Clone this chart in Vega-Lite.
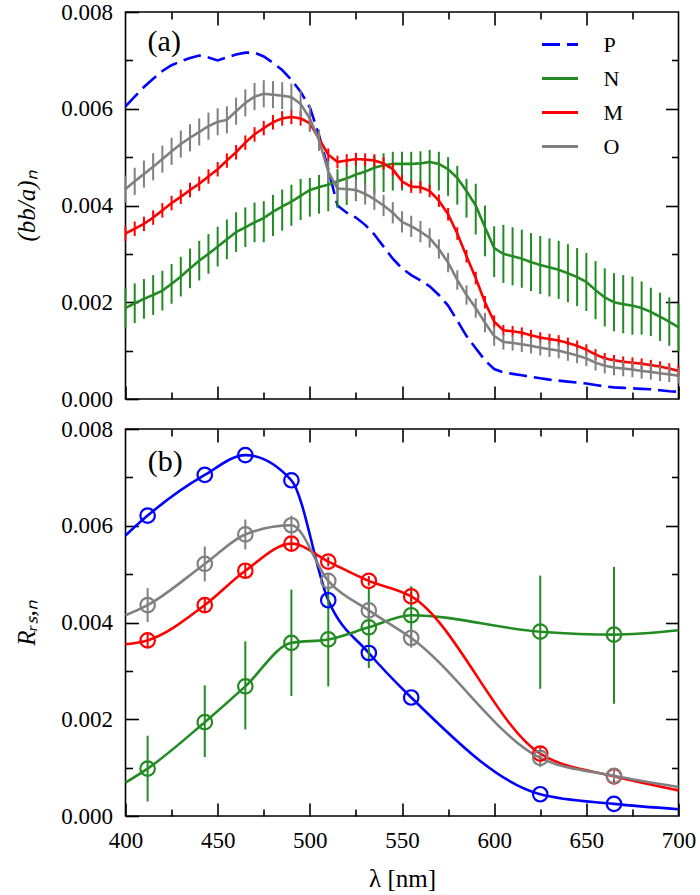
{
  "$schema": "https://vega.github.io/schema/vega-lite/v6.json",
  "padding": {"left": 13.5, "top": 0, "right": 10, "bottom": 2},
  "background": "white",
  "bounds": "flush",
  "config": {
    "view": {"stroke": "black", "strokeWidth": 1.6},
    "font": "Liberation Serif",
    "axis": {"domain": false, "grid": false, "tickColor": "black", "tickWidth": 1.6, "labelFont": "Liberation Serif", "labelFontSize": 23, "labelColor": "black", "labelFlush": false, "titleFont": "Liberation Serif", "titleFontSize": 25, "titleFontWeight": "normal", "titleColor": "black"},
    "legend": {"labelFont": "Liberation Serif", "labelFontSize": 22, "labelColor": "black"}
  },
  "resolve": {"scale": {"color": "independent", "strokeDash": "independent"}, "legend": {"color": "independent", "strokeDash": "independent"}},
  "spacing": 30,
  "datasets": {
    "top": [
      {"wl":400,"s":"P","v":0.00605},{"wl":405,"s":"P","v":0.00625},{"wl":410,"s":"P","v":0.00645},{"wl":415,"s":"P","v":0.00662},{"wl":420,"s":"P","v":0.00678},{"wl":425,"s":"P","v":0.0069},{"wl":430,"s":"P","v":0.00698},{"wl":435,"s":"P","v":0.00705},{"wl":440,"s":"P","v":0.0071},{"wl":445,"s":"P","v":0.00706},{"wl":450,"s":"P","v":0.007},{"wl":455,"s":"P","v":0.00706},{"wl":460,"s":"P","v":0.00712},{"wl":465,"s":"P","v":0.00716},{"wl":470,"s":"P","v":0.00716},{"wl":475,"s":"P","v":0.00708},{"wl":480,"s":"P","v":0.00695},{"wl":485,"s":"P","v":0.0068},{"wl":490,"s":"P","v":0.0066},{"wl":495,"s":"P","v":0.00635},{"wl":500,"s":"P","v":0.00603},{"wl":505,"s":"P","v":0.00545},{"wl":510,"s":"P","v":0.00475},{"wl":515,"s":"P","v":0.004},{"wl":520,"s":"P","v":0.00385},{"wl":525,"s":"P","v":0.00375},{"wl":530,"s":"P","v":0.0036},{"wl":535,"s":"P","v":0.0034},{"wl":540,"s":"P","v":0.00315},{"wl":545,"s":"P","v":0.0029},{"wl":550,"s":"P","v":0.0027},{"wl":555,"s":"P","v":0.00256},{"wl":560,"s":"P","v":0.00245},{"wl":565,"s":"P","v":0.00233},{"wl":570,"s":"P","v":0.00215},{"wl":575,"s":"P","v":0.00193},{"wl":580,"s":"P","v":0.00162},{"wl":585,"s":"P","v":0.0013},{"wl":590,"s":"P","v":0.00105},{"wl":595,"s":"P","v":0.0008},{"wl":600,"s":"P","v":0.00062},{"wl":605,"s":"P","v":0.00055},{"wl":610,"s":"P","v":0.00052},{"wl":615,"s":"P","v":0.00049},{"wl":620,"s":"P","v":0.00046},{"wl":625,"s":"P","v":0.00043},{"wl":630,"s":"P","v":0.0004},{"wl":635,"s":"P","v":0.00038},{"wl":640,"s":"P","v":0.00036},{"wl":645,"s":"P","v":0.00034},{"wl":650,"s":"P","v":0.00032},{"wl":655,"s":"P","v":0.00029},{"wl":660,"s":"P","v":0.00026},{"wl":665,"s":"P","v":0.00024},{"wl":670,"s":"P","v":0.00023},{"wl":675,"s":"P","v":0.00022},{"wl":680,"s":"P","v":0.00021},{"wl":685,"s":"P","v":0.0002},{"wl":690,"s":"P","v":0.00018},{"wl":695,"s":"P","v":0.00016},{"wl":700,"s":"P","v":0.00015},
      {"wl":400,"s":"N","v":0.00188,"lo":0.00147,"hi":0.00229},{"wl":405,"s":"N","v":0.00198,"lo":0.00157,"hi":0.00239},{"wl":410,"s":"N","v":0.00207,"lo":0.00166,"hi":0.00248},{"wl":415,"s":"N","v":0.00215,"lo":0.00174,"hi":0.00256},{"wl":420,"s":"N","v":0.00224,"lo":0.00183,"hi":0.00265},{"wl":425,"s":"N","v":0.00238,"lo":0.00197,"hi":0.00279},{"wl":430,"s":"N","v":0.00253,"lo":0.00212,"hi":0.00294},{"wl":435,"s":"N","v":0.0027,"lo":0.00229,"hi":0.00311},{"wl":440,"s":"N","v":0.00286,"lo":0.00245,"hi":0.00327},{"wl":445,"s":"N","v":0.003,"lo":0.00259,"hi":0.00341},{"wl":450,"s":"N","v":0.00315,"lo":0.00274,"hi":0.00356},{"wl":455,"s":"N","v":0.0033,"lo":0.00289,"hi":0.00371},{"wl":460,"s":"N","v":0.00345,"lo":0.00304,"hi":0.00386},{"wl":465,"s":"N","v":0.00355,"lo":0.00314,"hi":0.00396},{"wl":470,"s":"N","v":0.00365,"lo":0.00324,"hi":0.00406},{"wl":475,"s":"N","v":0.00374,"lo":0.00324,"hi":0.00409},{"wl":480,"s":"N","v":0.00387,"lo":0.00337,"hi":0.00422},{"wl":485,"s":"N","v":0.00398,"lo":0.00348,"hi":0.00433},{"wl":490,"s":"N","v":0.00408,"lo":0.00358,"hi":0.00443},{"wl":495,"s":"N","v":0.0042,"lo":0.0037,"hi":0.00455},{"wl":500,"s":"N","v":0.00432,"lo":0.00377,"hi":0.00457},{"wl":505,"s":"N","v":0.00438,"lo":0.00383,"hi":0.00463},{"wl":510,"s":"N","v":0.00443,"lo":0.00388,"hi":0.00468},{"wl":515,"s":"N","v":0.0045,"lo":0.00395,"hi":0.00475},{"wl":520,"s":"N","v":0.00456,"lo":0.00401,"hi":0.00481},{"wl":525,"s":"N","v":0.00464,"lo":0.00409,"hi":0.00489},{"wl":530,"s":"N","v":0.0047,"lo":0.00415,"hi":0.00495},{"wl":535,"s":"N","v":0.00478,"lo":0.00423,"hi":0.00503},{"wl":540,"s":"N","v":0.00483,"lo":0.00428,"hi":0.00508},{"wl":545,"s":"N","v":0.00486,"lo":0.00431,"hi":0.00511},{"wl":550,"s":"N","v":0.00486,"lo":0.00431,"hi":0.00511},{"wl":555,"s":"N","v":0.00486,"lo":0.00431,"hi":0.00511},{"wl":560,"s":"N","v":0.00487,"lo":0.00432,"hi":0.00512},{"wl":565,"s":"N","v":0.0049,"lo":0.00435,"hi":0.00515},{"wl":570,"s":"N","v":0.00486,"lo":0.00431,"hi":0.00511},{"wl":575,"s":"N","v":0.00475,"lo":0.0042,"hi":0.005},{"wl":580,"s":"N","v":0.00457,"lo":0.00402,"hi":0.00482},{"wl":585,"s":"N","v":0.0043,"lo":0.00375,"hi":0.00455},{"wl":590,"s":"N","v":0.004,"lo":0.0034,"hi":0.00445},{"wl":595,"s":"N","v":0.00355,"lo":0.00295,"hi":0.004},{"wl":600,"s":"N","v":0.00312,"lo":0.00252,"hi":0.00357},{"wl":605,"s":"N","v":0.003,"lo":0.0024,"hi":0.0036},{"wl":610,"s":"N","v":0.00295,"lo":0.00235,"hi":0.00355},{"wl":615,"s":"N","v":0.0029,"lo":0.0023,"hi":0.0035},{"wl":620,"s":"N","v":0.00283,"lo":0.00223,"hi":0.00343},{"wl":625,"s":"N","v":0.00277,"lo":0.00217,"hi":0.00337},{"wl":630,"s":"N","v":0.00272,"lo":0.00212,"hi":0.00332},{"wl":635,"s":"N","v":0.00267,"lo":0.00207,"hi":0.00327},{"wl":640,"s":"N","v":0.0026,"lo":0.002,"hi":0.0032},{"wl":645,"s":"N","v":0.00252,"lo":0.00192,"hi":0.00312},{"wl":650,"s":"N","v":0.00242,"lo":0.00182,"hi":0.00302},{"wl":655,"s":"N","v":0.00225,"lo":0.00165,"hi":0.00285},{"wl":660,"s":"N","v":0.0021,"lo":0.0015,"hi":0.0027},{"wl":665,"s":"N","v":0.002,"lo":0.0014,"hi":0.0026},{"wl":670,"s":"N","v":0.00196,"lo":0.00136,"hi":0.00256},{"wl":675,"s":"N","v":0.00193,"lo":0.00133,"hi":0.00253},{"wl":680,"s":"N","v":0.00188,"lo":0.00133,"hi":0.00243},{"wl":685,"s":"N","v":0.0018,"lo":0.0013,"hi":0.0023},{"wl":690,"s":"N","v":0.0017,"lo":0.0012,"hi":0.0022},{"wl":695,"s":"N","v":0.0016,"lo":0.0011,"hi":0.0021},{"wl":700,"s":"N","v":0.00148,"lo":0.00098,"hi":0.00198},
      {"wl":400,"s":"M","v":0.00342,"lo":0.00327,"hi":0.00357},{"wl":405,"s":"M","v":0.00352,"lo":0.00337,"hi":0.00367},{"wl":410,"s":"M","v":0.00362,"lo":0.00347,"hi":0.00377},{"wl":415,"s":"M","v":0.00375,"lo":0.0036,"hi":0.0039},{"wl":420,"s":"M","v":0.0039,"lo":0.00375,"hi":0.00405},{"wl":425,"s":"M","v":0.00405,"lo":0.0039,"hi":0.0042},{"wl":430,"s":"M","v":0.00418,"lo":0.00403,"hi":0.00433},{"wl":435,"s":"M","v":0.00432,"lo":0.00417,"hi":0.00447},{"wl":440,"s":"M","v":0.00445,"lo":0.0043,"hi":0.0046},{"wl":445,"s":"M","v":0.0046,"lo":0.00445,"hi":0.00475},{"wl":450,"s":"M","v":0.00475,"lo":0.0046,"hi":0.0049},{"wl":455,"s":"M","v":0.00493,"lo":0.00478,"hi":0.00508},{"wl":460,"s":"M","v":0.0051,"lo":0.00495,"hi":0.00525},{"wl":465,"s":"M","v":0.0053,"lo":0.00515,"hi":0.00545},{"wl":470,"s":"M","v":0.00547,"lo":0.00532,"hi":0.00562},{"wl":475,"s":"M","v":0.0056,"lo":0.00545,"hi":0.00575},{"wl":480,"s":"M","v":0.00572,"lo":0.00557,"hi":0.00587},{"wl":485,"s":"M","v":0.0058,"lo":0.00565,"hi":0.00595},{"wl":490,"s":"M","v":0.00583,"lo":0.00568,"hi":0.00598},{"wl":495,"s":"M","v":0.0058,"lo":0.00565,"hi":0.00595},{"wl":500,"s":"M","v":0.0057,"lo":0.00555,"hi":0.00585},{"wl":505,"s":"M","v":0.00538,"lo":0.00525,"hi":0.00551},{"wl":510,"s":"M","v":0.00505,"lo":0.00492,"hi":0.00518},{"wl":515,"s":"M","v":0.0049,"lo":0.00477,"hi":0.00503},{"wl":520,"s":"M","v":0.00493,"lo":0.0048,"hi":0.00506},{"wl":525,"s":"M","v":0.00496,"lo":0.00483,"hi":0.00509},{"wl":530,"s":"M","v":0.00495,"lo":0.00482,"hi":0.00508},{"wl":535,"s":"M","v":0.00493,"lo":0.0048,"hi":0.00506},{"wl":540,"s":"M","v":0.00487,"lo":0.00474,"hi":0.005},{"wl":545,"s":"M","v":0.00475,"lo":0.00462,"hi":0.00488},{"wl":550,"s":"M","v":0.0045,"lo":0.00437,"hi":0.00463},{"wl":555,"s":"M","v":0.00439,"lo":0.00426,"hi":0.00452},{"wl":560,"s":"M","v":0.00438,"lo":0.00425,"hi":0.00451},{"wl":565,"s":"M","v":0.0043,"lo":0.00417,"hi":0.00443},{"wl":570,"s":"M","v":0.0041,"lo":0.00397,"hi":0.00423},{"wl":575,"s":"M","v":0.00382,"lo":0.00369,"hi":0.00395},{"wl":580,"s":"M","v":0.00342,"lo":0.00329,"hi":0.00355},{"wl":585,"s":"M","v":0.00295,"lo":0.00282,"hi":0.00308},{"wl":590,"s":"M","v":0.0025,"lo":0.00237,"hi":0.00263},{"wl":595,"s":"M","v":0.002,"lo":0.00187,"hi":0.00213},{"wl":600,"s":"M","v":0.0016,"lo":0.00147,"hi":0.00173},{"wl":605,"s":"M","v":0.00142,"lo":0.00131,"hi":0.00153},{"wl":610,"s":"M","v":0.0014,"lo":0.00129,"hi":0.00151},{"wl":615,"s":"M","v":0.00137,"lo":0.00126,"hi":0.00148},{"wl":620,"s":"M","v":0.00132,"lo":0.00121,"hi":0.00143},{"wl":625,"s":"M","v":0.00127,"lo":0.00116,"hi":0.00138},{"wl":630,"s":"M","v":0.00124,"lo":0.00113,"hi":0.00135},{"wl":635,"s":"M","v":0.00121,"lo":0.0011,"hi":0.00132},{"wl":640,"s":"M","v":0.00116,"lo":0.00105,"hi":0.00127},{"wl":645,"s":"M","v":0.0011,"lo":0.00099,"hi":0.00121},{"wl":650,"s":"M","v":0.00102,"lo":0.00091,"hi":0.00113},{"wl":655,"s":"M","v":0.00092,"lo":0.00081,"hi":0.00103},{"wl":660,"s":"M","v":0.00084,"lo":0.00073,"hi":0.00095},{"wl":665,"s":"M","v":0.0008,"lo":0.00069,"hi":0.00091},{"wl":670,"s":"M","v":0.00077,"lo":0.00066,"hi":0.00088},{"wl":675,"s":"M","v":0.00075,"lo":0.00064,"hi":0.00086},{"wl":680,"s":"M","v":0.00073,"lo":0.00062,"hi":0.00084},{"wl":685,"s":"M","v":0.0007,"lo":0.00059,"hi":0.00081},{"wl":690,"s":"M","v":0.00067,"lo":0.00056,"hi":0.00078},{"wl":695,"s":"M","v":0.00063,"lo":0.00052,"hi":0.00074},{"wl":700,"s":"M","v":0.00058,"lo":0.00047,"hi":0.00069},
      {"wl":400,"s":"O","v":0.00434,"lo":0.00406,"hi":0.00462},{"wl":405,"s":"O","v":0.0045,"lo":0.00422,"hi":0.00478},{"wl":410,"s":"O","v":0.00465,"lo":0.00437,"hi":0.00493},{"wl":415,"s":"O","v":0.0048,"lo":0.00452,"hi":0.00508},{"wl":420,"s":"O","v":0.00496,"lo":0.00468,"hi":0.00524},{"wl":425,"s":"O","v":0.00512,"lo":0.00484,"hi":0.0054},{"wl":430,"s":"O","v":0.00527,"lo":0.00499,"hi":0.00555},{"wl":435,"s":"O","v":0.0054,"lo":0.00512,"hi":0.00568},{"wl":440,"s":"O","v":0.00552,"lo":0.00524,"hi":0.0058},{"wl":445,"s":"O","v":0.00564,"lo":0.00536,"hi":0.00592},{"wl":450,"s":"O","v":0.00573,"lo":0.00545,"hi":0.00601},{"wl":455,"s":"O","v":0.00577,"lo":0.00549,"hi":0.00605},{"wl":460,"s":"O","v":0.00595,"lo":0.00567,"hi":0.00623},{"wl":465,"s":"O","v":0.00612,"lo":0.00584,"hi":0.0064},{"wl":470,"s":"O","v":0.00625,"lo":0.00597,"hi":0.00653},{"wl":475,"s":"O","v":0.00631,"lo":0.00603,"hi":0.00659},{"wl":480,"s":"O","v":0.00629,"lo":0.00601,"hi":0.00657},{"wl":485,"s":"O","v":0.00627,"lo":0.00599,"hi":0.00655},{"wl":490,"s":"O","v":0.00624,"lo":0.00596,"hi":0.00652},{"wl":495,"s":"O","v":0.0061,"lo":0.00582,"hi":0.00638},{"wl":500,"s":"O","v":0.0058,"lo":0.00552,"hi":0.00608},{"wl":505,"s":"O","v":0.00535,"lo":0.00513,"hi":0.00557},{"wl":510,"s":"O","v":0.0047,"lo":0.00448,"hi":0.00492},{"wl":515,"s":"O","v":0.00435,"lo":0.00413,"hi":0.00457},{"wl":520,"s":"O","v":0.00434,"lo":0.00412,"hi":0.00456},{"wl":525,"s":"O","v":0.00432,"lo":0.0041,"hi":0.00454},{"wl":530,"s":"O","v":0.00424,"lo":0.00402,"hi":0.00446},{"wl":535,"s":"O","v":0.00413,"lo":0.00391,"hi":0.00435},{"wl":540,"s":"O","v":0.004,"lo":0.00378,"hi":0.00422},{"wl":545,"s":"O","v":0.00385,"lo":0.00363,"hi":0.00407},{"wl":550,"s":"O","v":0.00366,"lo":0.00344,"hi":0.00388},{"wl":555,"s":"O","v":0.00357,"lo":0.00335,"hi":0.00379},{"wl":560,"s":"O","v":0.00346,"lo":0.00324,"hi":0.00368},{"wl":565,"s":"O","v":0.00333,"lo":0.00313,"hi":0.00353},{"wl":570,"s":"O","v":0.0031,"lo":0.0029,"hi":0.0033},{"wl":575,"s":"O","v":0.00282,"lo":0.00262,"hi":0.00302},{"wl":580,"s":"O","v":0.00246,"lo":0.00226,"hi":0.00266},{"wl":585,"s":"O","v":0.00215,"lo":0.00195,"hi":0.00235},{"wl":590,"s":"O","v":0.00188,"lo":0.00168,"hi":0.00208},{"wl":595,"s":"O","v":0.00158,"lo":0.00138,"hi":0.00178},{"wl":600,"s":"O","v":0.0013,"lo":0.0011,"hi":0.0015},{"wl":605,"s":"O","v":0.00118,"lo":0.00102,"hi":0.00134},{"wl":610,"s":"O","v":0.00116,"lo":0.001,"hi":0.00132},{"wl":615,"s":"O","v":0.00113,"lo":0.00097,"hi":0.00129},{"wl":620,"s":"O","v":0.0011,"lo":0.00094,"hi":0.00126},{"wl":625,"s":"O","v":0.00106,"lo":0.0009,"hi":0.00122},{"wl":630,"s":"O","v":0.00103,"lo":0.00087,"hi":0.00119},{"wl":635,"s":"O","v":0.001,"lo":0.00084,"hi":0.00116},{"wl":640,"s":"O","v":0.00095,"lo":0.00079,"hi":0.00111},{"wl":645,"s":"O","v":0.0009,"lo":0.00074,"hi":0.00106},{"wl":650,"s":"O","v":0.00084,"lo":0.00068,"hi":0.001},{"wl":655,"s":"O","v":0.00075,"lo":0.00059,"hi":0.00091},{"wl":660,"s":"O","v":0.00069,"lo":0.00053,"hi":0.00085},{"wl":665,"s":"O","v":0.00065,"lo":0.00049,"hi":0.00081},{"wl":670,"s":"O","v":0.00063,"lo":0.00047,"hi":0.00079},{"wl":675,"s":"O","v":0.00061,"lo":0.00045,"hi":0.00077},{"wl":680,"s":"O","v":0.00058,"lo":0.00042,"hi":0.00074},{"wl":685,"s":"O","v":0.00056,"lo":0.0004,"hi":0.00072},{"wl":690,"s":"O","v":0.00053,"lo":0.00037,"hi":0.00069},{"wl":695,"s":"O","v":0.00051,"lo":0.00035,"hi":0.00067},{"wl":700,"s":"O","v":0.00048,"lo":0.00032,"hi":0.00064}
    ],
    "bot": [
      {"wl":400,"s":"P","v":0.0058},{"wl":412,"s":"P","v":0.00621},{"wl":443,"s":"P","v":0.00705},{"wl":465,"s":"P","v":0.00746},{"wl":490,"s":"P","v":0.00694},{"wl":510,"s":"P","v":0.00446},{"wl":532,"s":"P","v":0.00337},{"wl":555,"s":"P","v":0.00245},{"wl":625,"s":"P","v":0.00045},{"wl":665,"s":"P","v":0.00025},{"wl":700,"s":"P","v":0.00014},
      {"wl":400,"s":"N","v":0.00069},{"wl":412,"s":"N","v":0.00098,"lo":0.0003,"hi":0.00166},{"wl":443,"s":"N","v":0.00194,"lo":0.00122,"hi":0.0027},{"wl":465,"s":"N","v":0.00268,"lo":0.00179,"hi":0.00361},{"wl":490,"s":"N","v":0.00358,"lo":0.00248,"hi":0.00468},{"wl":510,"s":"N","v":0.00365,"lo":0.00268,"hi":0.0047},{"wl":532,"s":"N","v":0.0039,"lo":0.00306,"hi":0.0047},{"wl":555,"s":"N","v":0.00415,"lo":0.0035,"hi":0.00475},{"wl":625,"s":"N","v":0.00381,"lo":0.00263,"hi":0.00497},{"wl":665,"s":"N","v":0.00375,"lo":0.00232,"hi":0.00515},{"wl":700,"s":"N","v":0.00384},
      {"wl":400,"s":"M","v":0.00355},{"wl":412,"s":"M","v":0.00363,"lo":0.00348,"hi":0.00378},{"wl":443,"s":"M","v":0.00436,"lo":0.00421,"hi":0.00451},{"wl":465,"s":"M","v":0.00507,"lo":0.00492,"hi":0.00522},{"wl":490,"s":"M","v":0.00563,"lo":0.00548,"hi":0.00578},{"wl":510,"s":"M","v":0.00526,"lo":0.00516,"hi":0.00536},{"wl":532,"s":"M","v":0.00486,"lo":0.00476,"hi":0.00496},{"wl":555,"s":"M","v":0.00454,"lo":0.00444,"hi":0.00464},{"wl":625,"s":"M","v":0.00129,"lo":0.00114,"hi":0.00144},{"wl":665,"s":"M","v":0.00082,"lo":0.0007,"hi":0.00094},{"wl":700,"s":"M","v":0.00053},
      {"wl":400,"s":"O","v":0.00415},{"wl":412,"s":"O","v":0.00436,"lo":0.00401,"hi":0.00471},{"wl":443,"s":"O","v":0.00521,"lo":0.00485,"hi":0.00557},{"wl":465,"s":"O","v":0.00582,"lo":0.00551,"hi":0.00613},{"wl":490,"s":"O","v":0.00601,"lo":0.00581,"hi":0.00621},{"wl":510,"s":"O","v":0.00486,"lo":0.00471,"hi":0.00501},{"wl":532,"s":"O","v":0.00425,"lo":0.00408,"hi":0.00442},{"wl":555,"s":"O","v":0.00368,"lo":0.00348,"hi":0.00388},{"wl":625,"s":"O","v":0.0012,"lo":0.00101,"hi":0.00139},{"wl":665,"s":"O","v":0.00083,"lo":0.00073,"hi":0.00093},{"wl":700,"s":"O","v":0.0006}
    ]
  },
  "vconcat": [
    {
      "width": 553,
      "height": 387,
      "resolve": {"axis": {"x": "independent", "y": "independent"}},
      "layer": [
        {
          "data": {"name": "top"},
          "mark": {"type": "line", "strokeWidth": 2.6},
          "encoding": {
            "x": {"field": "wl", "type": "quantitative", "scale": {"domain": [400, 700], "nice": false}, "axis": {"orient": "bottom", "values": [400, 450, 500, 550, 600, 650, 700], "tickSize": -13, "labels": false, "title": null}},
            "y": {"field": "v", "type": "quantitative", "scale": {"domain": [0, 0.008], "nice": false}, "axis": {"orient": "left", "values": [0, 0.002, 0.004, 0.006, 0.008], "format": ".3f", "tickSize": -13, "labelPadding": 26, "labelFont": "Liberation Serif", "title": "(bb/a)ₙ", "titlePadding": 21, "titleFontStyle": "italic"}},
            "color": {"field": "s", "type": "nominal", "sort": null, "scale": {"domain": ["P", "N", "M", "O"], "range": ["#0000ff", "#228b22", "#ff0000", "#808080"]}, "legend": {"title": null, "orient": "none", "legendX": 415, "legendY": 13, "symbolType": "stroke", "symbolSize": 1296, "symbolStrokeWidth": 3, "labelOffset": 24, "rowPadding": 3, "labelFontSize": 22}},
            "strokeDash": {"field": "s", "type": "nominal", "sort": null, "scale": {"domain": ["P", "N", "M", "O"], "range": [[18, 7], [1, 0], [1, 0], [1, 0]]}, "legend": {"title": null, "orient": "none", "legendX": 415, "legendY": 13, "symbolType": "stroke", "symbolSize": 1296, "symbolStrokeWidth": 3, "labelOffset": 24, "rowPadding": 3, "labelFontSize": 22}}
          }
        },
        {
          "data": {"name": "top"},
          "transform": [{"filter": "datum.lo != null"}],
          "mark": {"type": "rule", "strokeWidth": 2},
          "encoding": {
            "x": {"field": "wl", "type": "quantitative", "axis": null},
            "y": {"field": "lo", "type": "quantitative", "axis": null},
            "y2": {"field": "hi"},
            "color": {"field": "s", "type": "nominal", "sort": null, "scale": {"domain": ["P", "N", "M", "O"], "range": ["#0000ff", "#228b22", "#ff0000", "#808080"]}}
          }
        },
        {
          "data": {"values": [{}]},
          "mark": {"type": "text", "fontSize": 30, "font": "Liberation Serif", "color": "black"},
          "encoding": {
            "x": {"datum": 421, "type": "quantitative", "axis": null},
            "y": {"datum": 0.00737, "type": "quantitative", "axis": null},
            "text": {"value": "(a)"}
          }
        },
        {
          "data": {"name": "top"},
          "transform": [{"filter": "datum.wl == 400 && datum.s == 'P'"}],
          "mark": {"type": "point", "opacity": 0},
          "encoding": {
            "x": {"field": "wl", "type": "quantitative", "axis": {"orient": "bottom", "values": [425, 475, 525, 575, 625, 675], "tickSize": -7, "labels": false, "title": null}},
            "y": {"field": "v", "type": "quantitative", "axis": {"orient": "left", "values": [0.001, 0.003, 0.005, 0.007], "tickSize": -7, "labels": false, "title": null}}
          }
        },
        {
          "data": {"name": "top"},
          "transform": [{"filter": "datum.wl == 400 && datum.s == 'P'"}],
          "mark": {"type": "point", "opacity": 0},
          "encoding": {
            "x": {"field": "wl", "type": "quantitative", "axis": {"orient": "top", "values": [450, 500, 550, 600, 650], "tickSize": -13, "labels": false, "title": null}},
            "y": {"field": "v", "type": "quantitative", "axis": {"orient": "right", "values": [0.002, 0.004, 0.006], "tickSize": -13, "labels": false, "title": null}}
          }
        },
        {
          "data": {"name": "top"},
          "transform": [{"filter": "datum.wl == 400 && datum.s == 'P'"}],
          "mark": {"type": "point", "opacity": 0},
          "encoding": {
            "x": {"field": "wl", "type": "quantitative", "axis": {"orient": "top", "values": [425, 475, 525, 575, 625, 675], "tickSize": -7, "labels": false, "title": null}},
            "y": {"field": "v", "type": "quantitative", "axis": {"orient": "right", "values": [0.001, 0.003, 0.005, 0.007], "tickSize": -7, "labels": false, "title": null}}
          }
        }
      ]
    },
    {
      "width": 553,
      "height": 387,
      "resolve": {"axis": {"x": "independent", "y": "independent"}},
      "layer": [
        {
          "data": {"name": "bot"},
          "mark": {"type": "line", "strokeWidth": 2.6, "interpolate": "monotone"},
          "encoding": {
            "x": {"field": "wl", "type": "quantitative", "scale": {"domain": [400, 700], "nice": false}, "axis": {"orient": "bottom", "values": [400, 450, 500, 550, 600, 650, 700], "tickSize": -13, "labelPadding": 26, "labelFont": "Liberation Serif", "title": "λ [nm]", "titlePadding": 14}},
            "y": {"field": "v", "type": "quantitative", "scale": {"domain": [0, 0.008], "nice": false}, "axis": {"orient": "left", "values": [0, 0.002, 0.004, 0.006, 0.008], "format": ".3f", "tickSize": -13, "labelPadding": 26, "labelFont": "Liberation Serif", "title": "Rᵣₛ,ₙ", "titlePadding": 21, "titleFontStyle": "italic"}},
            "color": {"field": "s", "type": "nominal", "sort": null, "scale": {"domain": ["P", "N", "M", "O"], "range": ["#0000ff", "#228b22", "#ff0000", "#808080"]}, "legend": null}
          }
        },
        {
          "data": {"name": "bot"},
          "transform": [{"filter": "datum.lo != null"}],
          "mark": {"type": "rule", "strokeWidth": 2},
          "encoding": {
            "x": {"field": "wl", "type": "quantitative", "axis": null},
            "y": {"field": "lo", "type": "quantitative", "axis": null},
            "y2": {"field": "hi"},
            "color": {"field": "s", "type": "nominal", "sort": null, "scale": {"domain": ["P", "N", "M", "O"], "range": ["#0000ff", "#228b22", "#ff0000", "#808080"]}, "legend": null}
          }
        },
        {
          "data": {"name": "bot"},
          "transform": [{"filter": "datum.wl > 400 && datum.wl < 700"}],
          "mark": {"type": "point", "shape": "circle", "filled": false, "size": 210, "strokeWidth": 2.2, "opacity": 1},
          "encoding": {
            "x": {"field": "wl", "type": "quantitative", "axis": null},
            "y": {"field": "v", "type": "quantitative", "axis": null},
            "color": {"field": "s", "type": "nominal", "sort": null, "scale": {"domain": ["P", "N", "M", "O"], "range": ["#0000ff", "#228b22", "#ff0000", "#808080"]}, "legend": null}
          }
        },
        {
          "data": {"values": [{}]},
          "mark": {"type": "text", "fontSize": 30, "font": "Liberation Serif", "color": "black"},
          "encoding": {
            "x": {"datum": 421.5, "type": "quantitative", "axis": null},
            "y": {"datum": 0.00732, "type": "quantitative", "axis": null},
            "text": {"value": "(b)"}
          }
        },
        {
          "data": {"name": "bot"},
          "transform": [{"filter": "datum.wl == 400 && datum.s == 'P'"}],
          "mark": {"type": "point", "opacity": 0},
          "encoding": {
            "x": {"field": "wl", "type": "quantitative", "axis": {"orient": "bottom", "values": [425, 475, 525, 575, 625, 675], "tickSize": -7, "labels": false, "title": null}},
            "y": {"field": "v", "type": "quantitative", "axis": {"orient": "left", "values": [0.001, 0.003, 0.005, 0.007], "tickSize": -7, "labels": false, "title": null}}
          }
        },
        {
          "data": {"name": "bot"},
          "transform": [{"filter": "datum.wl == 400 && datum.s == 'P'"}],
          "mark": {"type": "point", "opacity": 0},
          "encoding": {
            "x": {"field": "wl", "type": "quantitative", "axis": {"orient": "top", "values": [450, 500, 550, 600, 650], "tickSize": -13, "labels": false, "title": null}},
            "y": {"field": "v", "type": "quantitative", "axis": {"orient": "right", "values": [0.002, 0.004, 0.006], "tickSize": -13, "labels": false, "title": null}}
          }
        },
        {
          "data": {"name": "bot"},
          "transform": [{"filter": "datum.wl == 400 && datum.s == 'P'"}],
          "mark": {"type": "point", "opacity": 0},
          "encoding": {
            "x": {"field": "wl", "type": "quantitative", "axis": {"orient": "top", "values": [425, 475, 525, 575, 625, 675], "tickSize": -7, "labels": false, "title": null}},
            "y": {"field": "v", "type": "quantitative", "axis": {"orient": "right", "values": [0.001, 0.003, 0.005, 0.007], "tickSize": -7, "labels": false, "title": null}}
          }
        }
      ]
    }
  ]
}
